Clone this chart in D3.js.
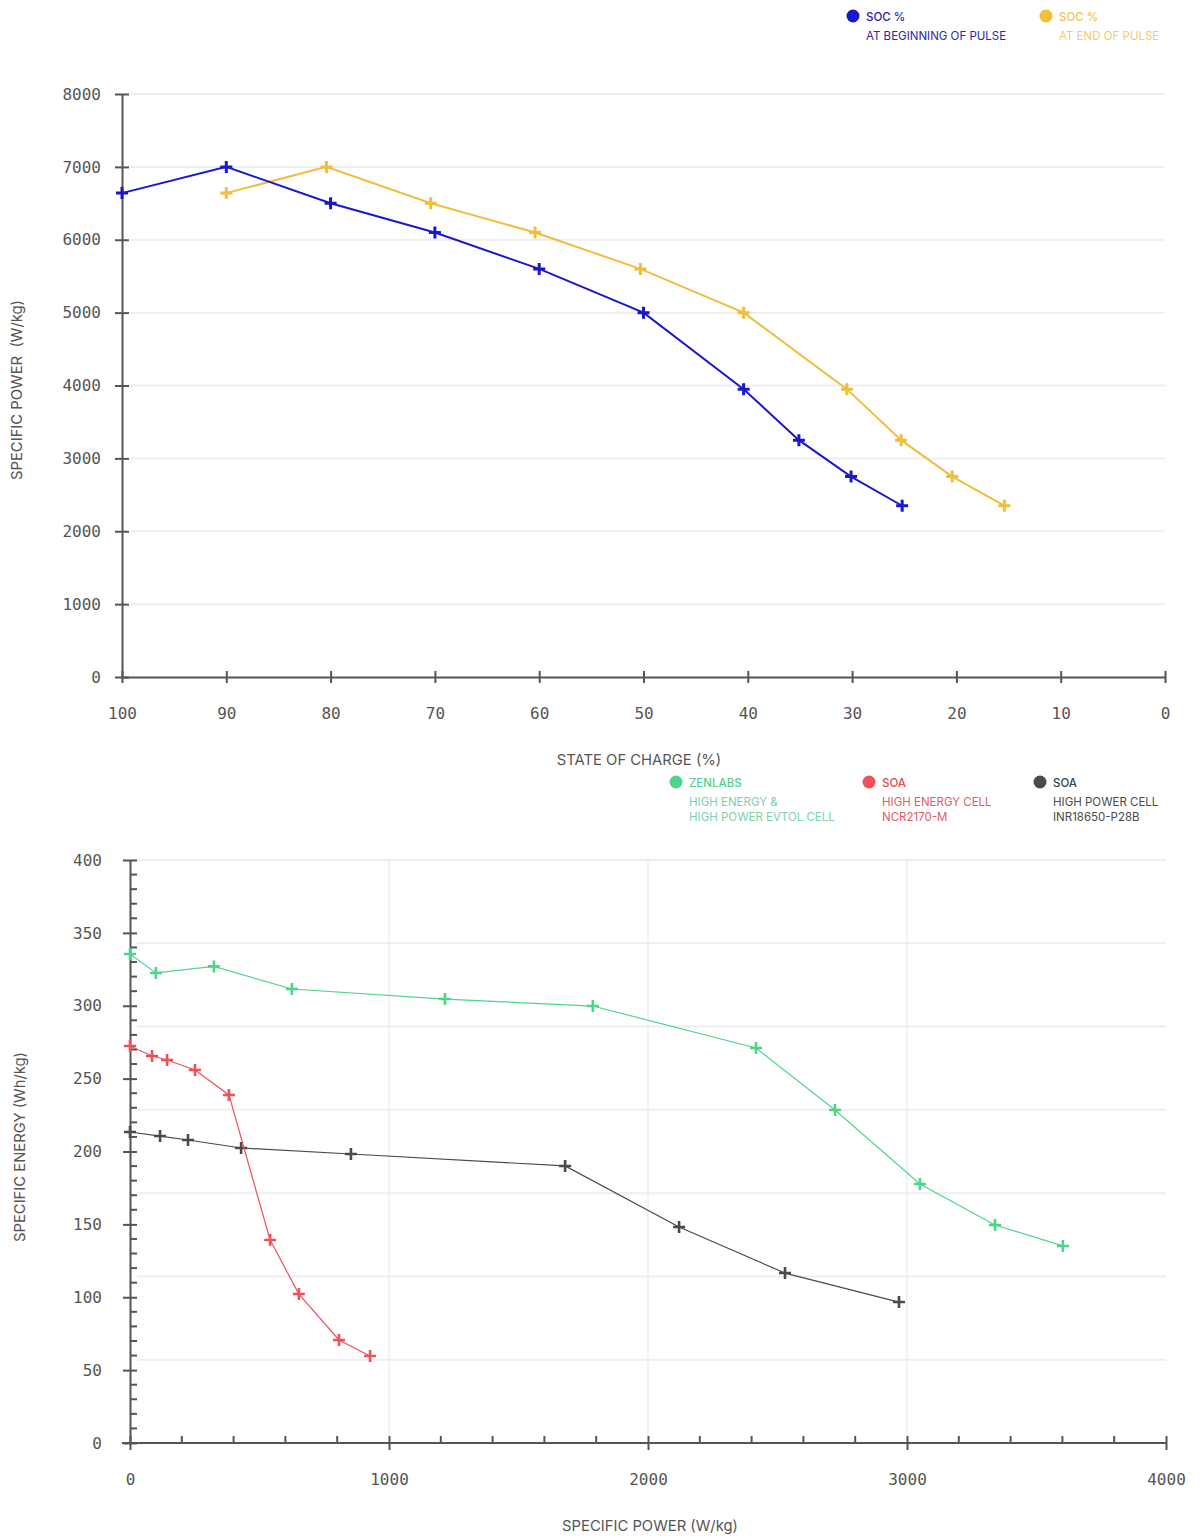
<!DOCTYPE html>
<html>
<head>
<meta charset="utf-8">
<script src="https://cdn.jsdelivr.net/npm/d3@7"></script>
<style>
  html, body { margin: 0; padding: 0; background: #fff; }
  svg { display: block; }
  .tick text { font-family: "DejaVu Sans Mono", monospace; font-size: 16px; fill: #555; }
  .domain { stroke: #555; stroke-width: 2; }
  .tick line { stroke: #555; stroke-width: 2; }
</style>
</head>
<body>
<svg id="chart" width="1200" height="1538"></svg>
<script>
// ---------- DATA ----------
// Top chart: specific power vs state of charge
const socBeginX = [100, 90, 80, 70, 60, 50, 40.4, 35.1, 30.1, 25.2];
const socBeginY = [6640, 7000, 6500, 6100, 5600, 5000, 3950, 3250, 2750, 2350];
const socEndX   = [90, 80.4, 70.4, 60.4, 50.3, 40.4, 30.5, 25.3, 20.4, 15.4];
const socEndY   = [6640, 7000, 6500, 6100, 5600, 5000, 3950, 3250, 2750, 2350];
const topXTicks = [100, 90, 80, 70, 60, 50, 40, 30, 20, 10, 0];
const topYTicks = [0, 1000, 2000, 3000, 4000, 5000, 6000, 7000, 8000];

// Bottom chart: specific energy vs specific power
const zenX = [0, 100, 324, 625, 1216, 1787, 2417, 2722, 3050, 3340, 3602];
const zenY = [335.5, 322.5, 327, 311.5, 304.6, 299.8, 271, 228.5, 177.7, 149.6, 135.2];
const soaHeX = [0, 85, 143, 251, 382, 541, 652, 807, 927];
const soaHeY = [272.4, 265.5, 262.8, 255.9, 238.8, 139.3, 102.2, 70.7, 59.7];
const soaHpX = [0, 116, 224, 429, 853, 1680, 2120, 2529, 2969];
const soaHpY = [213.4, 210.6, 207.9, 202.4, 198.3, 190.1, 148.2, 116.6, 96.7];
const botXTicks = [0, 1000, 2000, 3000, 4000];
const botYTicks = [0, 50, 100, 150, 200, 250, 300, 350, 400];

const topLegend = [
  { title: "SOC %", sub: ["AT BEGINNING OF PULSE"], key: "blue" },
  { title: "SOC %", sub: ["AT END OF PULSE"], key: "yellow" }
];
const botLegend = [
  { title: "ZENLABS", sub: ["HIGH ENERGY &", "HIGH POWER EVTOL CELL"], key: "green" },
  { title: "SOA", sub: ["HIGH ENERGY CELL", "NCR2170-M"], key: "red" },
  { title: "SOA", sub: ["HIGH POWER CELL", "INR18650-P28B"], key: "gray" }
];

// ---------- STYLE ----------
const colors = {
  blue:   { mark: "#1b17cc", title: "#2323b8", sub: "#2a2aa8" },
  yellow: { mark: "#f1bd3a", title: "#f2c450", sub: "#f3cd6c" },
  green:  { mark: "#4dd68a", title: "#55cf8e", sub: "#7dd2a6" },
  red:    { mark: "#f0505a", title: "#e84a55", sub: "#e65a66" },
  gray:   { mark: "#4a4a4a", title: "#3f3f3f", sub: "#4a4a4a" }
};
const gridColor = "#eeeeee";
const titleFont = "Inter, Roboto, sans-serif";
const svg = d3.select("#chart");
const fmt = d3.format("d");

function plus(g, pts, color, arm, sw) {
  g.selectAll(null).data(pts).enter().append("path")
    .attr("d", d => `M${d[0]-arm},${d[1]}H${d[0]+arm}M${d[0]},${d[1]-arm}V${d[1]+arm}`)
    .attr("stroke", color).attr("stroke-width", sw).attr("fill", "none");
}

function legend(items, xs, y0) {
  items.forEach((it, i) => {
    const c = colors[it.key];
    const g = svg.append("g").attr("transform", `translate(${xs[i]},${y0})`);
    g.append("circle").attr("cx", 0).attr("cy", 0).attr("r", 6.5).attr("fill", c.mark);
    g.append("text").attr("x", 13).attr("y", 4.5).text(it.title)
      .attr("font-family", titleFont).attr("font-size", 11.5)
      .attr("font-weight", 500).attr("fill", c.title);
    it.sub.forEach((s, j) => {
      g.append("text").attr("x", 13).attr("y", 24 + j * 14.5).text(s)
        .attr("font-family", titleFont).attr("font-size", 11.5)
        .attr("fill", c.sub);
    });
  });
}

// ---------- TOP CHART ----------
const xT = d3.scaleLinear().domain([100, 0]).range([122, 1165]);
const yT = d3.scaleLinear().domain([0, 8000]).range([677, 94]);

const gT = svg.append("g");
gT.append("g").selectAll("line").data(topYTicks.filter(v => v > 0)).enter().append("line")
  .attr("x1", 131).attr("x2", 1165)
  .attr("y1", d => yT(d)).attr("y2", d => yT(d))
  .attr("stroke", gridColor).attr("stroke-width", 2);

const axYT = gT.append("g").attr("transform", "translate(122,0)")
  .call(d3.axisLeft(yT).tickValues(topYTicks).tickFormat(fmt).tickSize(7).tickPadding(14).tickSizeOuter(0));
axYT.selectAll(".tick line").attr("x2", 7).attr("x1", -7);
const axXT = gT.append("g").attr("transform", "translate(0,677)")
  .call(d3.axisBottom(xT).tickValues(topXTicks).tickFormat(fmt).tickSize(6).tickPadding(25).tickSizeOuter(0));
axXT.selectAll(".tick line").attr("y1", -6).attr("y2", 6);

const lineT = d3.line().x(d => xT(d[0])).y(d => yT(d[1]));
const beginPts = socBeginX.map((x, i) => [x, socBeginY[i]]);
const endPts = socEndX.map((x, i) => [x, socEndY[i]]);
gT.append("path").datum(endPts).attr("d", lineT).attr("fill", "none")
  .attr("stroke", colors.yellow.mark).attr("stroke-width", 2);
gT.append("path").datum(beginPts).attr("d", lineT).attr("fill", "none")
  .attr("stroke", colors.blue.mark).attr("stroke-width", 2);
plus(gT, endPts.map(d => [xT(d[0]), yT(d[1])]), colors.yellow.mark, 6, 3);
plus(gT, beginPts.map(d => [xT(d[0]), yT(d[1])]), colors.blue.mark, 6, 3);

svg.append("text").attr("transform", "translate(22,390) rotate(-90)")
  .attr("text-anchor", "middle").attr("font-family", titleFont)
  .attr("font-size", 14.8).attr("fill", "#555").attr("xml:space", "preserve")
  .text("SPECIFIC POWER  (W/kg)");
svg.append("text").attr("x", 639).attr("y", 765)
  .attr("text-anchor", "middle").attr("font-family", titleFont)
  .attr("font-size", 14.8).attr("fill", "#555").text("STATE OF CHARGE (%)");

legend(topLegend, [853, 1046], 16);

// ---------- BOTTOM CHART ----------
const xB = d3.scaleLinear().domain([0, 4000]).range([130, 1166]);
const yB = d3.scaleLinear().domain([0, 400]).range([1443, 860]);
const gB = svg.append("g");

const hGrid = d3.range(1, 8).map(k => 400 * k / 7);
gB.append("g").selectAll("line").data(hGrid).enter().append("line")
  .attr("x1", 137).attr("x2", 1166)
  .attr("y1", d => yB(d)).attr("y2", d => yB(d))
  .attr("stroke", gridColor).attr("stroke-width", 2);
gB.append("g").selectAll("line").data(botXTicks.filter(v => v > 0 && v < 4000)).enter().append("line")
  .attr("x1", d => xB(d)).attr("x2", d => xB(d))
  .attr("y1", 860).attr("y2", 1437)
  .attr("stroke", gridColor).attr("stroke-width", 1.5);

gB.append("g").selectAll("line").data(d3.range(0, 401, 10).filter(v => v % 50 !== 0)).enter().append("line")
  .attr("x1", 130).attr("x2", 137).attr("y1", d => yB(d)).attr("y2", d => yB(d))
  .attr("stroke", "#555").attr("stroke-width", 2);
gB.append("g").selectAll("line").data(d3.range(0, 4001, 200).filter(v => v % 1000 !== 0)).enter().append("line")
  .attr("y1", 1443).attr("y2", 1436).attr("x1", d => xB(d)).attr("x2", d => xB(d))
  .attr("stroke", "#555").attr("stroke-width", 2);

const axYB = gB.append("g").attr("transform", "translate(130,0)")
  .call(d3.axisLeft(yB).tickValues(botYTicks).tickFormat(fmt).tickSize(7).tickPadding(21).tickSizeOuter(0));
axYB.selectAll(".tick line").attr("x1", -7).attr("x2", 7);
const axXB = gB.append("g").attr("transform", "translate(0,1443)")
  .call(d3.axisBottom(xB).tickValues(botXTicks).tickFormat(fmt).tickSize(7).tickPadding(24).tickSizeOuter(0));
axXB.selectAll(".tick line").attr("y1", -7).attr("y2", 7);
axXB.select(".domain").attr("d", "M122,0H1166");

const lineB = d3.line().x(d => xB(d[0])).y(d => yB(d[1]));
const series = [
  { x: soaHpX, y: soaHpY, key: "gray" },
  { x: soaHeX, y: soaHeY, key: "red" },
  { x: zenX, y: zenY, key: "green" }
];
series.forEach(s => {
  const pts = s.x.map((x, i) => [x, s.y[i]]);
  gB.append("path").datum(pts).attr("d", lineB).attr("fill", "none")
    .attr("stroke", colors[s.key].mark).attr("stroke-width", 1.2);
  plus(gB, pts.map(d => [xB(d[0]), yB(d[1])]), colors[s.key].mark, 6, 2.6);
});

svg.append("text").attr("transform", "translate(25,1147) rotate(-90)")
  .attr("text-anchor", "middle").attr("font-family", titleFont)
  .attr("font-size", 14.8).attr("fill", "#555").text("SPECIFIC ENERGY (Wh/kg)");
svg.append("text").attr("x", 650).attr("y", 1531)
  .attr("text-anchor", "middle").attr("font-family", titleFont)
  .attr("font-size", 14.8).attr("fill", "#555").text("SPECIFIC POWER (W/kg)");

legend(botLegend, [676, 869, 1040], 782);
</script>
</body>
</html>
